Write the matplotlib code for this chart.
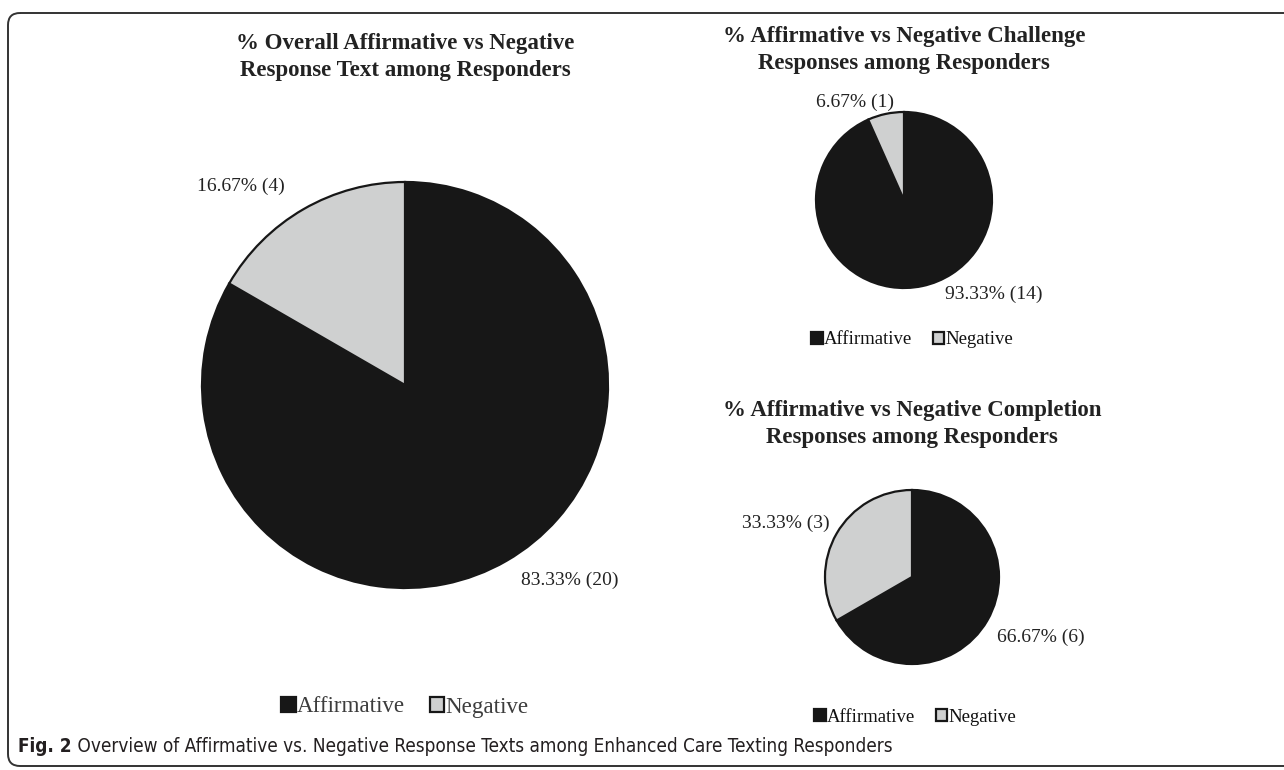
import matplotlib
matplotlib.use("Agg")
import matplotlib.pyplot as plt
from matplotlib.patches import FancyBboxPatch

# data
categories = ["Affirmative", "Negative"]
overall_counts = [20, 4]
challenge_counts = [14, 1]
completion_counts = [6, 3]

titles = [
    "% Overall Affirmative vs Negative\nResponse Text among Responders",
    "% Affirmative vs Negative Challenge\nResponses among Responders",
    "% Affirmative vs Negative Completion\nResponses among Responders",
]
caption_bold = "Fig. 2"
caption_text = " Overview of Affirmative vs. Negative Response Texts among Enhanced Care Texting Responders"

colors = ["#171717", "#cfd0d0"]
W, H = 1284, 770

plt.rcParams["font.family"] = ["Liberation Serif", "DejaVu Serif"]
fig = plt.figure(figsize=(W / 100, H / 100), dpi=100)

# frame around the whole figure
bg = fig.add_axes([0, 0, 1, 1])
bg.set_xlim(0, W)
bg.set_ylim(H, 0)
bg.axis("off")
bg.add_patch(FancyBboxPatch((8, 13), 1300, 753, boxstyle="round,pad=0,rounding_size=12",
                            fc="none", ec="#333333", lw=1.4))


def pie_panel(counts, cx, cy, r, title, title_y, label_pos, leg_y, fs_leg, leg_color, leg_x=None):
    ext = 1.7
    ax = fig.add_axes([(cx - ext * r) / W, (H - cy - ext * r) / H, 2 * ext * r / W, 2 * ext * r / H])
    wedges, _ = ax.pie(counts, colors=colors, startangle=90, counterclock=False, radius=1,
                       wedgeprops=dict(edgecolor="#171717", linewidth=1.6))
    ax.set_xlim(-ext, ext)
    ax.set_ylim(-ext, ext)
    ax.set_aspect("equal")
    total = sum(counts)
    for v, (lx, ly) in zip(counts, label_pos):
        ax.text(lx, ly, f"{100 * v / total:.2f}% ({v})", ha="center", va="center",
                fontsize=14, color="#222222", clip_on=False)
    fig.text(cx / W, 1 - title_y / H, title, ha="center", va="center", fontsize=16.5,
             fontweight="bold", color="#222222", linespacing=1.35)
    lx = cx if leg_x is None else leg_x
    fig.legend(wedges, categories, loc="center", bbox_to_anchor=(lx / W, 1 - leg_y / H),
               ncol=2, frameon=False, fontsize=fs_leg, handlelength=0.62, handleheight=0.62,
               handletextpad=0.05, columnspacing=1.1, labelcolor=leg_color)
    return ax


pie_panel(overall_counts, 405, 385, 203, titles[0], 57,
          [(0.81, -0.96), (-0.81, 0.98)], 707, 16.6, "#3d3d3d")
pie_panel(challenge_counts, 904, 200, 88, titles[1], 50,
          [(1.02, -1.07), (-0.56, 1.11)], 340, 13.5, "#111111", leg_x=912)
pie_panel(completion_counts, 912, 577, 87, titles[2], 424,
          [(1.48, -0.69), (-1.45, 0.62)], 717, 13.5, "#111111", leg_x=915)

# caption in a condensed sans face
cap_family = ["DejaVu Sans"]
t1 = fig.text(18 / W, 1 - 747 / H, caption_bold, fontsize=13.6, fontweight="bold",
              family=cap_family, fontstretch="condensed", color="#231f20", va="center", ha="left")
fig.canvas.draw()
bb = t1.get_window_extent(renderer=fig.canvas.get_renderer())
fig.text(bb.x1 / W, 1 - 747 / H, caption_text, fontsize=13.6, family=cap_family,
         fontstretch="condensed", color="#231f20", va="center", ha="left")

fig.savefig("out.png", dpi=100)
